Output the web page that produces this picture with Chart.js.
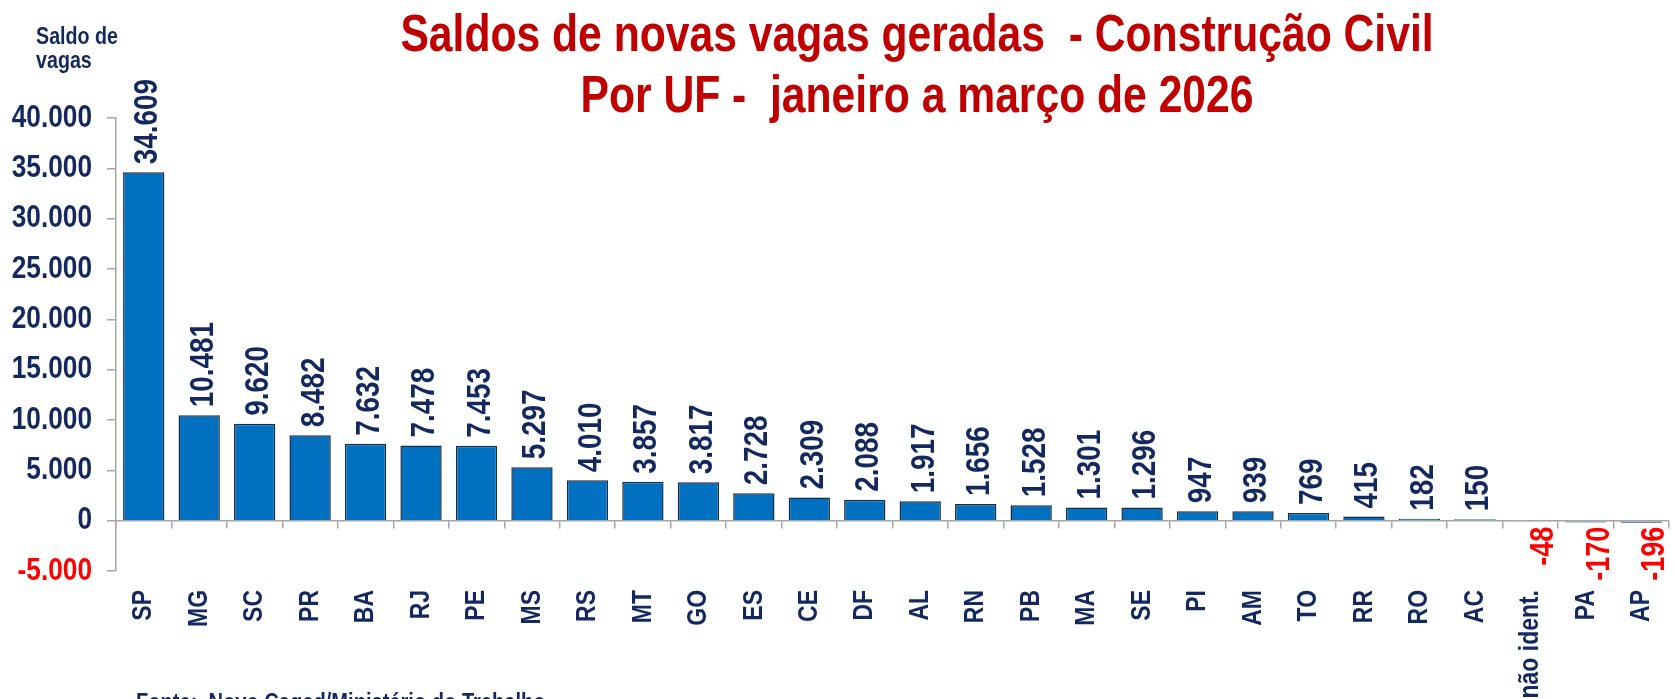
<!DOCTYPE html>
<html lang="pt-BR">
<head>
<meta charset="utf-8">
<title>Saldos de novas vagas - Construção Civil</title>
<script src="https://cdn.jsdelivr.net/npm/chart.js@4.4.1/dist/chart.umd.min.js"></script>
<style>
  html, body { margin: 0; padding: 0; background: #fff; }
</style>
</head>
<body>
<canvas id="chart" width="1677" height="699"></canvas>
<script>
// dados: saldo de vagas por UF, jan-mar 2026
const ufs = ['SP', 'MG', 'SC', 'PR', 'BA', 'RJ', 'PE', 'MS', 'RS', 'MT', 'GO', 'ES', 'CE', 'DF',
  'AL', 'RN', 'PB', 'MA', 'SE', 'PI', 'AM', 'TO', 'RR', 'RO', 'AC', 'não ident.', 'PA', 'AP']
const saldos = [34609, 10481, 9620, 8482, 7632, 7478, 7453, 5297, 4010, 3857, 3817, 2728, 2309, 2088,
  1917, 1656, 1528, 1301, 1296, 947, 939, 769, 415, 182, 150, -48, -170, -196]
const yMin = -5000
const yMax = 40000
const yStep = 5000

const titleLines = ['Saldos de novas vagas geradas  - Construção Civil', 'Por UF -  janeiro a março de 2026']
const yAxisTitle = ['Saldo de', 'vagas']
const fonte = 'Fonte:  Novo Caged/Ministério do Trabalho'

// no Arial Narrow here, so squeeze Liberation Sans Bold instead
const FAMILY = '"Liberation Sans", Arial, sans-serif'
const SQUEEZE = 0.82
const NAVY = '#13285E'
const RED = '#FF0000'
const TITLE_RED = '#C00000'
const AXIS = '#A6A6A6'

const fmt = (v) => (v < 0 ? '-' : '') + String(Math.abs(v)).replace(/\B(?=(\d{3})+(?!\d))/g, '.')

function narrowText(ctx, text, x, y, size, color, align, baseline, rotated) {
  ctx.save()
  ctx.translate(x, y)
  if (rotated) ctx.rotate(-Math.PI / 2)
  ctx.scale(SQUEEZE, 1)
  ctx.font = `bold ${size}px ${FAMILY}`
  ctx.fillStyle = color
  ctx.textAlign = align
  ctx.textBaseline = baseline
  ctx.fillText(text, 0, 0)
  ctx.restore()
}

const textos = {
  id: 'textos',
  afterDatasetsDraw(chart) {
    const ctx = chart.ctx
    const zero = chart.scales.y.getPixelForValue(0)
    chart.getDatasetMeta(0).data.forEach((bar, i) => {
      const v = saldos[i]
      if (v >= 0) {
        narrowText(ctx, fmt(v), bar.x + 4, bar.y - 8, 34, NAVY, 'left', 'middle', true)
      } else {
        narrowText(ctx, fmt(v), bar.x + 14, zero + 6, 33, RED, 'right', 'middle', true)
      }
    })
  },
  afterDraw(chart) {
    const ctx = chart.ctx
    const { x, y } = chart.scales

    // y tick labels
    y.ticks.forEach((t) => {
      narrowText(ctx, fmt(t.value), 92, y.getPixelForValue(t.value), 32,
        t.value < 0 ? RED : NAVY, 'right', 'middle', false)
    })
    // category labels, rotated
    ufs.forEach((uf, i) => {
      narrowText(ctx, uf, x.getPixelForTick(i), 590, 28, NAVY, 'right', 'middle', true)
    })

    narrowText(ctx, titleLines[0], 917, 51, 52, TITLE_RED, 'center', 'alphabetic', false)
    narrowText(ctx, titleLines[1], 917, 112, 52, TITLE_RED, 'center', 'alphabetic', false)

    narrowText(ctx, yAxisTitle[0], 36, 44, 24, NAVY, 'left', 'alphabetic', false)
    narrowText(ctx, yAxisTitle[1], 36, 68, 24, NAVY, 'left', 'alphabetic', false)

    narrowText(ctx, fonte, 136, 710, 24.5, NAVY, 'left', 'alphabetic', false)
  }
}

new Chart(document.getElementById('chart'), {
  type: 'bar',
  data: {
    labels: ufs,
    datasets: [{
      data: saldos,
      backgroundColor: '#0070C0',
      borderColor: '#1B2A47',
      borderWidth: 1.5,
      barPercentage: 0.745,
      categoryPercentage: 1
    }]
  },
  options: {
    responsive: false,
    animation: false,
    devicePixelRatio: 1,
    layout: { padding: { top: 118, right: 8, bottom: 0, left: 0 } },
    plugins: { legend: { display: false }, tooltip: { enabled: false } },
    scales: {
      x: {
        afterFit(s) { s.height = 128; s.paddingLeft = 0; s.paddingRight = 0 },
        grid: { display: false, drawTicks: false },
        border: { display: false },
        ticks: { display: false, autoSkip: false }
      },
      x0: {
        type: 'category',
        labels: ufs,
        offset: true,
        position: { y: 0 },
        ticks: { display: false },
        grid: { offset: true, drawOnChartArea: false, tickLength: 7, color: AXIS, lineWidth: 1.5 },
        border: { color: AXIS, width: 1.5 }
      },
      y: {
        min: yMin,
        max: yMax,
        afterFit(s) { s.width = 116; s.paddingTop = 0; s.paddingBottom = 0 },
        ticks: { display: false, stepSize: yStep },
        grid: { drawOnChartArea: false, tickLength: 9, color: AXIS, lineWidth: 1.5 },
        border: { color: AXIS, width: 1.5 }
      }
    }
  },
  plugins: [textos]
})
</script>
</body>
</html>
